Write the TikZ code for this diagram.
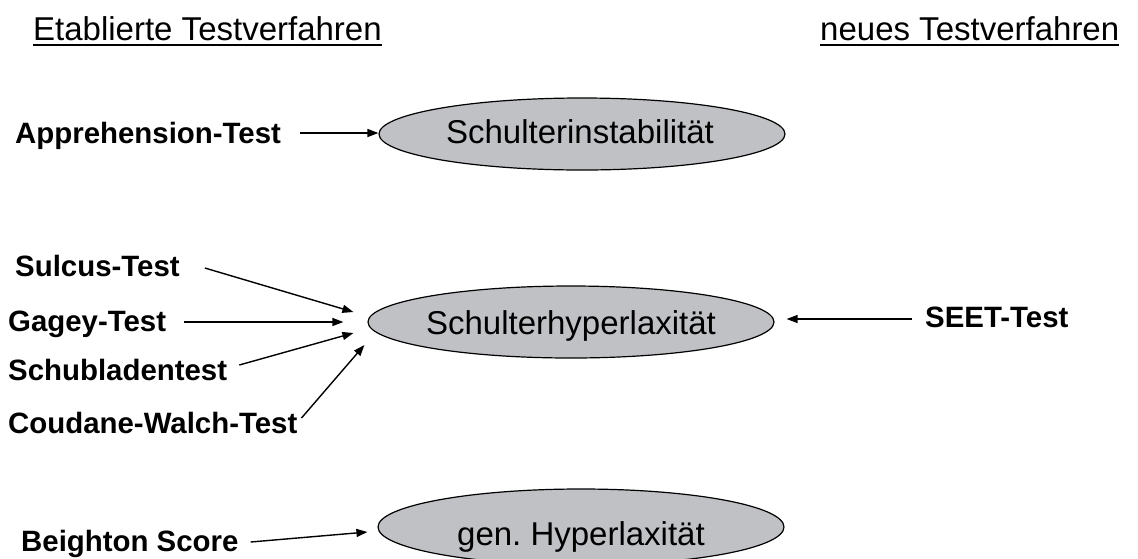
\documentclass[tikz,border=0pt]{standalone}
\usepackage{fontspec}
\setmainfont{Liberation Sans}
\usetikzlibrary{arrows.meta,shapes.geometric}
\definecolor{ellgray}{RGB}{192,193,197}
\frenchspacing
\tikzset{
  lbl/.style={anchor=base west,inner sep=0pt,font=\fontsize{29.4}{35}\selectfont\bfseries},
  hdr/.style={anchor=base west,inner sep=0pt,font=\fontsize{33}{40}\selectfont},
  ell/.style={ellipse,draw=black,line width=1.2pt,fill=ellgray,inner sep=0pt,
    minimum width=406pt,minimum height=72pt},
  etxt/.style={anchor=base,inner sep=0pt,font=\fontsize{33}{40}\selectfont},
  arr/.style={line width=1.4pt,-{Triangle[length=11pt,width=8pt]}},
  uline/.style={line width=2pt}
}
\begin{document}
\begin{tikzpicture}[x=1pt,y=-1pt]
\useasboundingbox (0,0) rectangle (1138,558);
\clip (0,0) rectangle (1138,558);
% headers
\node[hdr] (h1) at (33,40) {Etablierte Testverfahren};
\node[hdr] (h2) at (820,40) {neues Testverfahren};
\draw[uline] ([yshift=-5pt]h1.base west) -- ([yshift=-5pt]h1.base east);
\draw[uline] ([yshift=-5pt]h2.base west) -- ([yshift=-5pt]h2.base east);
% ellipses
\node[ell] (e1) at (582,134) {};
\node[etxt] (t1) at (580,143) {Schulterinstabilität};
\node[ell] (e2) at (571,322) {};
\node[etxt] (t2) at (571,334) {Schulterhyperlaxität};
\node[ell,minimum height=76pt] (e3) at (581,527) {};
\node[etxt] (t3) at (581,545) {gen.\ Hyperlaxität};
% labels
\node[lbl] (appr) at (15,143) {Apprehension-Test};
\node[lbl] (sulc) at (15,276) {Sulcus-Test};
\node[lbl] (gag) at (8,331) {Gagey-Test};
\node[lbl] (schub) at (8,380) {Schubladentest};
\node[lbl] (coud) at (8,433) {Coudane-Walch-Test};
\node[lbl] (seet) at (925,327) {SEET-Test};
\node[lbl] (beig) at (21,551) {Beighton Score};
% arrows
\draw[arr] ([shift={(19,-10)}]appr.base east) -- ([shift={(0,-1)}]e1.west);
\draw[arr] ([shift={(25,-8)}]sulc.base east) -- ([shift={(-14,-10)}]e2.west);
\draw[arr] ([shift={(18,-9)}]gag.base east) -- ([shift={(-24,0)}]e2.west);
\draw[arr] ([shift={(12,-15)}]schub.base east) -- ([shift={(-14,11)}]e2.west);
\draw[arr] ([shift={(4,-15)}]coud.base east) -- ([shift={(-3,23)}]e2.west);
\draw[arr] ([shift={(-13,-8)}]seet.base west) -- ([shift={(12,-3)}]e2.east);
\draw[arr] ([shift={(12,-9)}]beig.base east) -- ([shift={(-10,5)}]e3.west);
\end{tikzpicture}
\end{document}
